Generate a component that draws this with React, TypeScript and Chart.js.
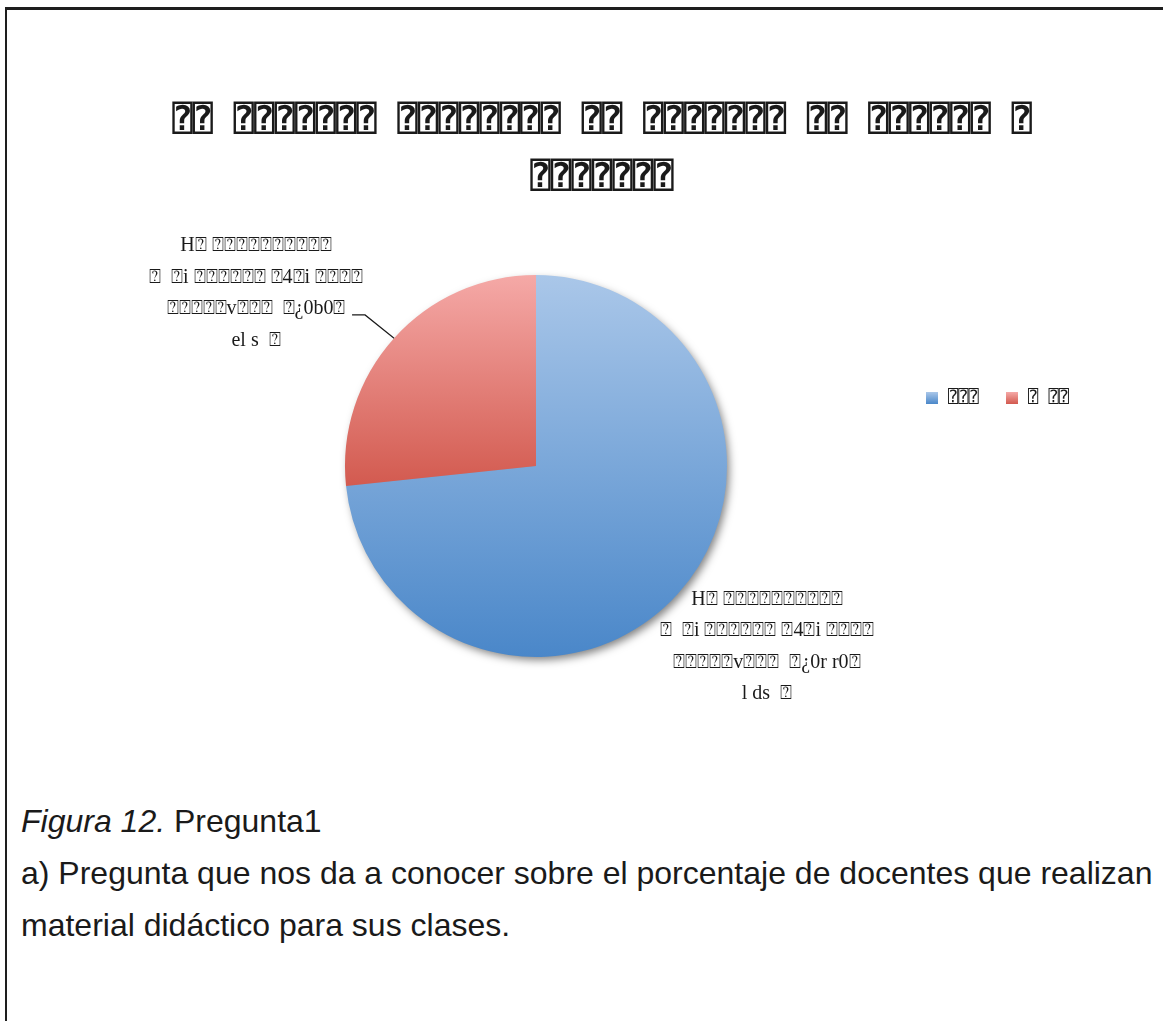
import React, { useEffect, useRef } from "react";
import { Chart, registerables } from "chart.js";

Chart.register(...registerables);

// ---- data (the source figure's text is rendered as missing-glyph boxes) ----
const Q = "\u2370";
const categories = [Q + Q + Q, Q + " " + Q + Q];
const values = [11, 4];
const titleLines = [
  Q + Q + " " + Q.repeat(7) + " " + Q.repeat(8) + " " + Q + Q + " " + Q.repeat(7) + " " + Q + Q + " " + Q.repeat(6) + " " + Q,
  Q.repeat(7),
];
const blueLabelLines = [
  "H" + Q + " " + Q.repeat(10),
  Q + "  " + Q + "i " + Q.repeat(6) + " " + Q + "4" + Q + "i " + Q.repeat(4),
  Q.repeat(5) + "v" + Q.repeat(3) + "  " + Q + "\u00bf0r r0" + Q,
  "l ds  " + Q,
];
const redLabelLines = [
  "H" + Q + " " + Q.repeat(10),
  Q + "  " + Q + "i " + Q.repeat(6) + " " + Q + "4" + Q + "i " + Q.repeat(4),
  Q.repeat(5) + "v" + Q.repeat(3) + "  " + Q + "\u00bf0b0" + Q,
  "el s  " + Q,
];
const captionItalic = "Figura 12.";
const captionRest = " Pregunta1";
const captionBody = [
  "a) Pregunta que nos da a conocer sobre el porcentaje de docentes que realizan",
  "material did\u00e1ctico para sus clases.",
];

// ---- styles ----
const gradStops = [
  ["#aac7e9", "#4a87c9"],
  ["#f5a9a7", "#d2594e"],
];
const gradSpan = [1.0, 0.56];

const W = 1163;
const H = 760;

function sliceGradient(chart: any, i: number) {
  const area = chart.chartArea;
  if (!area) return gradStops[i][1];
  const top = area.top;
  const bottom = area.top + (area.bottom - area.top) * gradSpan[i];
  const g = chart.ctx.createLinearGradient(0, top, 0, bottom);
  g.addColorStop(0, gradStops[i][0]);
  g.addColorStop(1, gradStops[i][1]);
  return g;
}

const decorPlugin = {
  id: "decor",
  beforeDatasetsDraw(chart: any) {
    const meta = chart.getDatasetMeta(0);
    const arc = meta.data[0];
    if (!arc) return;
    const { x, y, outerRadius } = arc.getProps(["x", "y", "outerRadius"], true);
    const ctx = chart.ctx;
    ctx.save();
    ctx.shadowColor = "rgba(0,0,0,0.5)";
    ctx.shadowBlur = 8;
    ctx.shadowOffsetX = 3;
    ctx.shadowOffsetY = 4;
    ctx.beginPath();
    ctx.arc(x, y, outerRadius - 1, 0, Math.PI * 2);
    ctx.fillStyle = "#7c9cc4";
    ctx.fill();
    ctx.restore();
  },
  afterDraw(chart: any, _args: any, opts: any) {
    const ctx = chart.ctx;
    ctx.save();
    ctx.fillStyle = "#1a1a1a";
    ctx.textAlign = "center";
    ctx.textBaseline = "middle";

    // title
    ctx.font = opts.titleFont;
    titleLines.forEach((t, i) => {
      ctx.fillText(t, opts.titleX, opts.titleY + i * opts.titleLineH);
    });

    // data labels
    const meta = chart.getDatasetMeta(0);
    const labelSets = [blueLabelLines, redLabelLines];
    ctx.font = opts.labelFont;
    meta.data.forEach((arc: any, i: number) => {
      const p = arc.getProps(["x", "y", "startAngle", "endAngle", "outerRadius"], true);
      const mid = (p.startAngle + p.endAngle) / 2;
      const ex = p.x + Math.cos(mid) * p.outerRadius;
      const ey = p.y + Math.sin(mid) * p.outerRadius;
      const off = opts.labelOffsets[i];
      const cx = ex + off[0];
      const cy = ey + off[1];
      const lines = labelSets[i];
      const n = lines.length;
      lines.forEach((t: string, k: number) => {
        ctx.fillText(t, cx, cy + (k - (n - 1) / 2) * opts.labelLineH);
      });
      if (opts.leader[i]) {
        const ly = cy + (2 - (n - 1) / 2) * opts.labelLineH + 6;
        ctx.strokeStyle = "#1a1a1a";
        ctx.lineWidth = 1.2;
        ctx.beginPath();
        ctx.moveTo(cx + 96, ly);
        ctx.lineTo(cx + 109, ly);
        ctx.lineTo(ex, ey);
        ctx.stroke();
      }
    });

    // legend (horizontal)
    ctx.textAlign = "left";
    ctx.font = opts.legendFont;
    let lx = opts.legendX;
    const ly = opts.legendY;
    categories.forEach((c, i) => {
      const g = ctx.createLinearGradient(0, ly - 6, 0, ly + 6);
      g.addColorStop(0, gradStops[i][0]);
      g.addColorStop(1, gradStops[i][1]);
      ctx.fillStyle = g;
      ctx.fillRect(lx, ly - 6, 12, 12);
      ctx.fillStyle = "#1a1a1a";
      ctx.fillText(c, lx + 22, ly);
      lx += 80;
    });
    ctx.restore();
  },
};

export default function App() {
  const ref = useRef<HTMLCanvasElement | null>(null);

  useEffect(() => {
    if (!ref.current) return;
    const chart = new Chart(ref.current, {
      type: "pie",
      data: {
        labels: categories,
        datasets: [
          {
            data: values,
            backgroundColor: (c: any) => sliceGradient(c.chart, c.dataIndex),
            borderWidth: 0,
          },
        ],
      },
      options: {
        responsive: false,
        animation: false,
        devicePixelRatio: 1,
        layout: { padding: { top: 275, bottom: H - 657, left: 345, right: W - 727 } },
        plugins: {
          legend: { display: false },
          title: { display: false },
          tooltip: { enabled: false },
          decor: {
            titleFont: 'bold 34px "DejaVu Sans Mono"',
            titleX: 602,
            titleY: 121,
            titleLineH: 57,
            labelFont: '20px "Liberation Serif"',
            labelLineH: 31.5,
            labelOffsets: [
              [89, 53],
              [-138, -45],
            ],
            leader: [false, true],
            legendFont: '17px "DejaVu Sans Mono"',
            legendX: 926,
            legendY: 398,
          },
        } as any,
      },
      plugins: [decorPlugin],
    });
    return () => chart.destroy();
  }, []);

  const textStyle: React.CSSProperties = {
    position: "absolute",
    left: 21,
    fontFamily: '"Liberation Sans", Arial, sans-serif',
    fontSize: 32,
    lineHeight: "52px",
    color: "#1a1a1a",
    whiteSpace: "nowrap",
  };

  return (
    <div style={{ position: "absolute", left: 0, top: 0, width: W, height: 1021, background: "#fff", overflow: "hidden" }}>
      <div
        style={{
          position: "absolute",
          left: 5,
          top: 7,
          width: W - 5,
          height: 1021 - 7,
          borderTop: "3px solid #1e1e1e",
          borderLeft: "2px solid #1e1e1e",
          boxSizing: "border-box",
        }}
      />
      <canvas ref={ref} width={W} height={H} style={{ position: "absolute", left: 0, top: 0, width: W, height: H }} />
      <div style={{ ...textStyle, top: 795 }}>
        <i>{captionItalic}</i>
        {captionRest}
      </div>
      {captionBody.map((t, i) => (
        <div key={i} style={{ ...textStyle, top: 847 + i * 52 }}>
          {t}
        </div>
      ))}
    </div>
  );
}
